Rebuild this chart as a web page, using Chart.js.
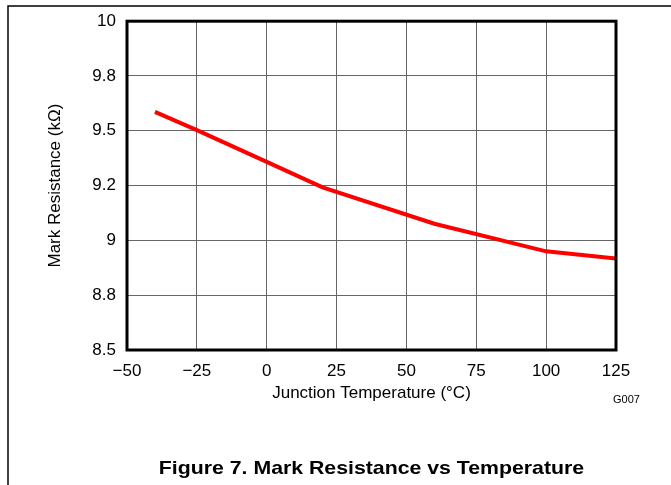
<!DOCTYPE html>
<html>
<head>
<meta charset="utf-8">
<script src="https://cdn.jsdelivr.net/npm/chart.js@4.4.1/dist/chart.umd.min.js"></script>
<style>
  html, body { margin: 0; padding: 0; background: #fff; }
  #wrap { position: relative; width: 671px; height: 485px; }
</style>
</head>
<body>
<div id="wrap"><canvas id="chart" width="671" height="485"></canvas></div>
<script>
// --- data ---
const temps = [-40, -25, 0, 20, 60, 100, 125];          // °C
const resistance = [9.586, 9.503, 9.358, 9.242, 9.076, 8.95, 8.917]; // kΩ
const yTickLabels = ['8.5', '8.8', '9', '9.2', '9.5', '9.8', '10'];
const xTitle = 'Junction Temperature (°C)';
const yTitle = 'Mark Resistance (kΩ)';
const caption = 'Figure 7. Mark Resistance vs Temperature';
const graphId = 'G007';

const FONT = "'Liberation Sans', Arial, sans-serif";
Chart.defaults.font.family = FONT;
Chart.defaults.color = '#000';

// frame, plot box and captions
const decor = {
    id: 'decor',
    beforeDraw(chart) {
        const c = chart.ctx;
        c.save();
        c.strokeStyle = '#000';
        c.lineWidth = 1.5;
        c.beginPath();
        c.moveTo(8, 485);
        c.lineTo(8, 6);
        c.lineTo(671, 6);
        c.stroke();
        c.restore();
    },
    afterDraw(chart) {
        const a = chart.chartArea;
        const c = chart.ctx;
        c.save();
        c.strokeStyle = '#000';
        c.lineWidth = 3;
        c.strokeRect(a.left, a.top, a.right - a.left, a.bottom - a.top);

        c.fillStyle = '#000';
        c.textBaseline = 'alphabetic';
        c.font = '11px ' + FONT;
        c.textAlign = 'left';
        c.fillText(graphId, 613, 403);

        // caption, a bit wider than the plain font like the original
        c.font = 'bold 18.5px ' + FONT;
        c.textAlign = 'center';
        c.translate((a.left + a.right) / 2, 474);
        c.scale(1.15, 1);
        c.fillText(caption, 0, 0);
        c.restore();
    }
};

new Chart(document.getElementById('chart'), {
    type: 'line',
    data: {
        datasets: [{
            data: temps.map((t, i) => ({ x: t, y: resistance[i] })),
            borderColor: '#ff0000',
            borderWidth: 4,
            pointRadius: 0,
            tension: 0,
            fill: false
        }]
    },
    options: {
        responsive: false,
        animation: false,
        layout: { padding: { left: 0, top: 20, right: 55, bottom: 0 } },
        plugins: { legend: { display: false }, tooltip: { enabled: false } },
        scales: {
            x: {
                type: 'linear',
                min: -50, max: 125,
                afterFit: (s) => { s.height = 135; },
                ticks: {
                    stepSize: 25,
                    padding: 11,
                    font: { size: 17 },
                    callback: (v) => String(v).replace('-', '\u2212')
                },
                grid: { color: '#666', lineWidth: 1, drawTicks: false },
                border: { display: false },
                title: { display: true, text: xTitle, font: { size: 17 }, padding: { top: 0, bottom: 81 } }
            },
            y: {
                min: 8.5, max: 10,
                afterFit: (s) => { s.width = 127; },
                ticks: {
                    stepSize: 0.25,
                    padding: 11,
                    font: { size: 17 },
                    callback: (v, i) => yTickLabels[i]
                },
                grid: { color: '#666', lineWidth: 1, drawTicks: false },
                border: { display: false },
                title: { display: true, text: yTitle, font: { size: 17 }, padding: { top: 45, bottom: 0 } }
            }
        }
    },
    plugins: [decor]
});
</script>
</body>
</html>
